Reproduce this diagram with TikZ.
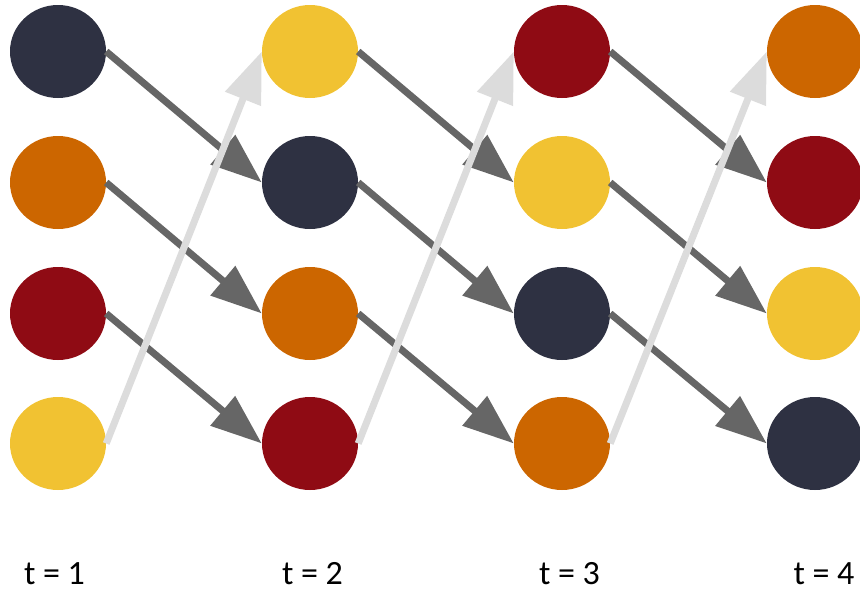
\documentclass[tikz,border=0pt]{standalone}
\usepackage{fontspec}
\setmainfont{Carlito}
\usetikzlibrary{shapes.geometric,arrows.meta}
\definecolor{cnavy}{HTML}{2E3142}
\definecolor{corange}{HTML}{CC6600}
\definecolor{cred}{HTML}{8F0B14}
\definecolor{cyellow}{HTML}{F1C232}
\definecolor{cdark}{HTML}{666666}
\definecolor{clight}{HTML}{DCDCDC}
\tikzset{
  dot/.style={ellipse, minimum width=96pt, minimum height=93pt, inner sep=0pt, draw=none},
  shiftarrow/.style={draw=cdark, line width=7pt, -{Triangle[length=51pt, width=37pt]}},
  wraparrow/.style={draw=clight, line width=7pt, -{Triangle[length=51pt, width=37pt]}},
  tlabel/.style={font=\fontsize{34pt}{40pt}\selectfont, inner sep=0pt, anchor=base}
}
\begin{document}
\begin{tikzpicture}[x=1pt, y=-1pt]
\useasboundingbox (0,0) rectangle (860,592);
% column 1
\node[dot, fill=cnavy]   (a1) at (58,51.5) {};
\node[dot, fill=corange] (a2) at (58,182.5) {};
\node[dot, fill=cred]    (a3) at (58,313.5) {};
\node[dot, fill=cyellow] (a4) at (58,443.5) {};
% column 2
\node[dot, fill=cyellow] (b1) at (310,51.5) {};
\node[dot, fill=cnavy]   (b2) at (310,182.5) {};
\node[dot, fill=corange] (b3) at (310,313.5) {};
\node[dot, fill=cred]    (b4) at (310,443.5) {};
% column 3
\node[dot, fill=cred]    (c1) at (562,51.5) {};
\node[dot, fill=cyellow] (c2) at (562,182.5) {};
\node[dot, fill=cnavy]   (c3) at (562,313.5) {};
\node[dot, fill=corange] (c4) at (562,443.5) {};
% column 4
\node[dot, fill=corange] (d1) at (815,51.5) {};
\node[dot, fill=cred]    (d2) at (815,182.5) {};
\node[dot, fill=cyellow] (d3) at (815,313.5) {};
\node[dot, fill=cnavy]   (d4) at (815,443.5) {};
% shift arrows
\draw[shiftarrow] (a1.east) -- (b2.west);
\draw[shiftarrow] (a2.east) -- (b3.west);
\draw[shiftarrow] (a3.east) -- (b4.west);
\draw[shiftarrow] (b1.east) -- (c2.west);
\draw[shiftarrow] (b2.east) -- (c3.west);
\draw[shiftarrow] (b3.east) -- (c4.west);
\draw[shiftarrow] (c1.east) -- (d2.west);
\draw[shiftarrow] (c2.east) -- (d3.west);
\draw[shiftarrow] (c3.east) -- (d4.west);
% wrap arrows
\draw[wraparrow] (a4.east) -- (b1.west);
\draw[wraparrow] (b4.east) -- (c1.west);
\draw[wraparrow] (c4.east) -- (d1.west);
% labels
\node[tlabel] (l1) at (54.5,584) {t = 1};
\node[tlabel] (l2) at (312.5,584) {t = 2};
\node[tlabel] (l3) at (569.5,584) {t = 3};
\node[tlabel] (l4) at (824,584) {t = 4};
\end{tikzpicture}
\end{document}
